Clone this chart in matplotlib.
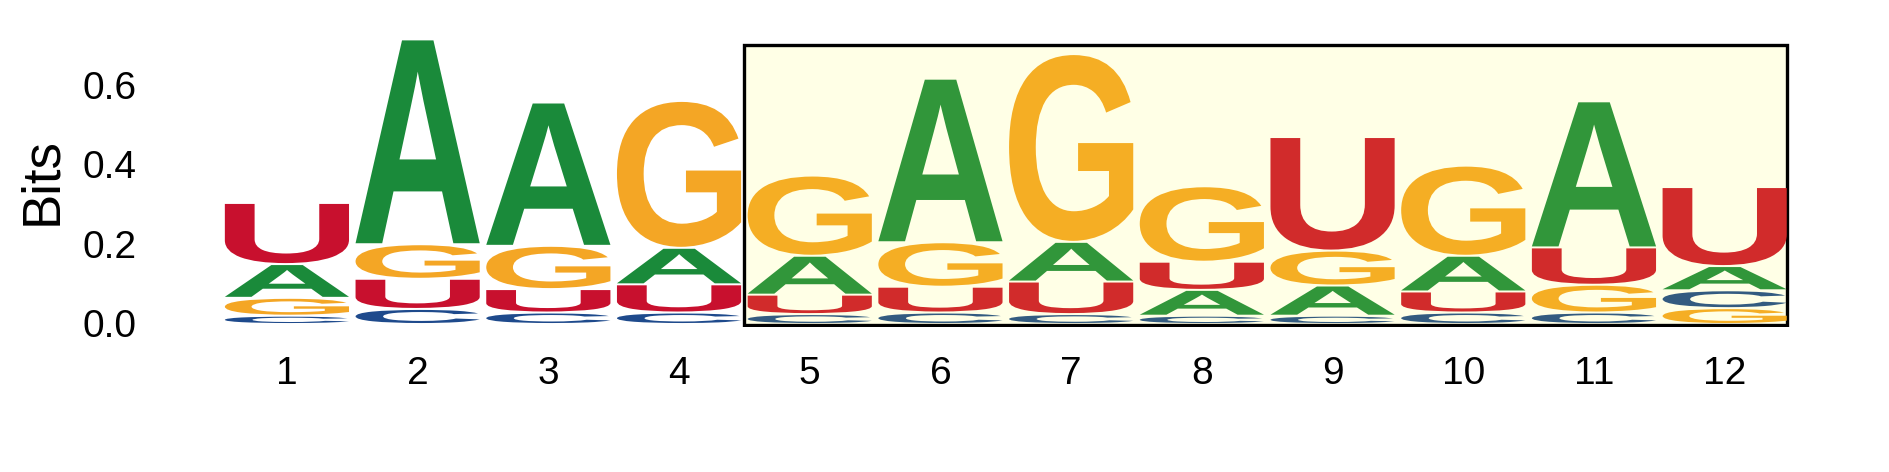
import matplotlib
matplotlib.use("Agg")
import matplotlib.pyplot as plt
from matplotlib.textpath import TextPath
from matplotlib.font_manager import FontProperties
from matplotlib.patches import PathPatch, Rectangle
from matplotlib.transforms import Affine2D

# information content (bits) per letter, positions 1..12
positions = list(range(1, 13))
bits_A = [0.085, 0.516, 0.361, 0.092, 0.098, 0.412, 0.100, 0.065, 0.076, 0.090, 0.368, 0.061]
bits_C = [0.021, 0.038, 0.029, 0.029, 0.025, 0.029, 0.025, 0.021, 0.021, 0.029, 0.029, 0.045]
bits_G = [0.045, 0.087, 0.109, 0.370, 0.202, 0.112, 0.473, 0.190, 0.088, 0.227, 0.070, 0.040]
bits_U = [0.154, 0.076, 0.059, 0.071, 0.049, 0.065, 0.082, 0.071, 0.286, 0.053, 0.094, 0.199]
yticks = [0.0, 0.2, 0.4, 0.6]

# highlighted region
hl_start = 5
hl_end = 12

colors_out = {'A': '#1a8a3a', 'C': '#1e4a8c', 'G': '#f4a625', 'U': '#c8102e'}
colors_in = {'A': '#31963a', 'C': '#335b80', 'G': '#f5ae24', 'U': '#d12b2b'}

plt.rcParams['font.family'] = ['Liberation Sans', 'DejaVu Sans']

fig = plt.figure(figsize=(18.89, 4.72), dpi=100)
ax = fig.add_axes([0.1173, 0.3072, 0.8303, 0.6392])

glyph_font = FontProperties(family='Liberation Sans', weight='bold')
glyphs = {}
for ch in 'ACGU':
    glyphs[ch] = TextPath((0, 0), ch, size=1, prop=glyph_font)

letter_width = 0.95
gap = 0.005


def draw_letter(ch, x, y0, h, color):
    path = glyphs[ch]
    ext = path.get_extents()
    hh = max(h - gap, h * 0.6)
    tr = (Affine2D()
          .translate(-ext.x0, -ext.y0)
          .scale(letter_width / ext.width, hh / ext.height)
          .translate(x - letter_width / 2, y0))
    ax.add_patch(PathPatch(tr.transform_path(path), facecolor=color,
                           edgecolor='none', lw=0, zorder=3))


# highlight box drawn behind the letters
box = Rectangle((hl_start - 0.5, -0.005), hl_end - hl_start + 0.98, 0.705,
                facecolor='#ffffe6', edgecolor='black', lw=2.4, zorder=1)
ax.add_patch(box)

for i, p in enumerate(positions):
    col = {'A': bits_A[i], 'C': bits_C[i], 'G': bits_G[i], 'U': bits_U[i]}
    order = sorted(col, key=lambda k: col[k])
    pal = colors_in if hl_start <= p <= hl_end else colors_out
    y = 0
    for ch in order:
        draw_letter(ch, p, y, col[ch], pal[ch])
        y += col[ch]

ax.set_xlim(0.5, 12.5)
ax.set_ylim(-0.01, 0.75)
ax.set_xticks(positions)
ax.set_xticklabels([str(p) for p in positions])
ax.set_yticks(yticks)
ax.set_yticklabels(['%.1f' % t for t in yticks])
ax.tick_params(axis='x', length=0, pad=21, labelsize=28)
ax.tick_params(axis='y', length=0, pad=61, labelsize=28)
for s in ax.spines.values():
    s.set_visible(False)

fig.text(0.0222, 0.6165, 'Bits', rotation=90, ha='center', va='center', fontsize=38)

fig.savefig('out.png', dpi=100)
